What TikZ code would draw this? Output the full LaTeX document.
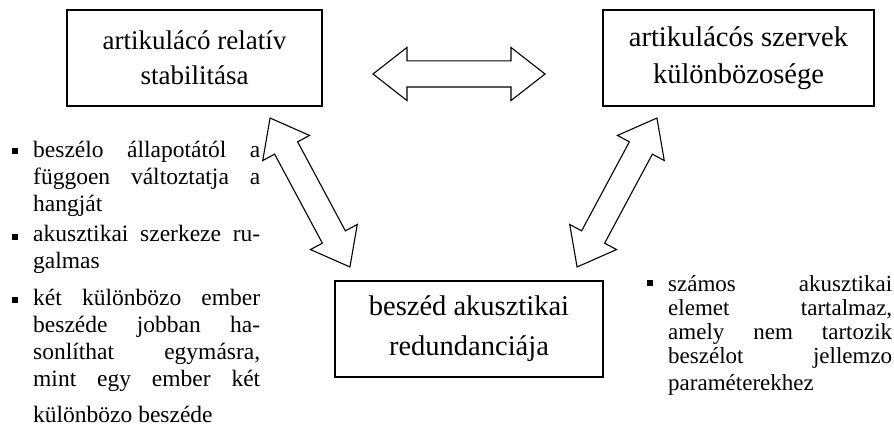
\documentclass[tikz,border=0pt]{standalone}
\usepackage{fontspec}
\setmainfont{Liberation Serif}
\usetikzlibrary{shapes.arrows}
\begin{document}
\begin{tikzpicture}[x=1pt,y=-1pt,
  box/.style={draw,line width=1.4pt,rectangle,align=center,inner sep=0pt,minimum height=96pt},
  blockarrow/.style={draw,line width=1.1pt,double arrow,double arrow tip angle=76,
    double arrow head extend=13.5pt,inner sep=0pt,inner ysep=12.5pt},
  bullettext/.style={anchor=north west,inner sep=0pt,align=justify},
  lefttext/.style={bullettext,text width=227pt,font=\fontsize{23.5}{27}\selectfont},
  righttext/.style={bullettext,text width=224pt,font=\fontsize{23}{24}\selectfont},
  bulletmark/.style={fill=black,inner sep=0pt,minimum size=6pt}
]
\useasboundingbox (0,0) rectangle (894,430);

% the three boxes
\node[box,minimum width=255pt,font=\fontsize{27}{35}\selectfont] (stab) at (194.5,58)
  {artikulácó relatív\\stabilitása};
\node[box,minimum width=271pt,font=\fontsize{28.5}{37}\selectfont] (szerv) at (738.5,58)
  {artikulácós szervek\\különbözosége};
\node[box,minimum width=268pt,font=\fontsize{28.5}{40}\selectfont] (redund) at (469,329)
  {beszéd akusztikai\\redundanciája};

% block arrows between the boxes
\node[blockarrow,minimum height=172pt] (a1) at (459,74) {};
\node[blockarrow,minimum height=169pt,rotate=-61.8] (a2) at (310,192.5) {};
\node[blockarrow,minimum height=169pt,rotate=61.8] (a3) at (617,192.5) {};

% left list
\node[bulletmark] (b1) at (15,151) {};
\node[lefttext] (t1) at (33,138.1)
  {\strut beszélo állapotától a\linebreak függoen változtatja a\linebreak hangját};
\node[bulletmark] (b2) at (15,237) {};
\node[lefttext] (t2) at (33,222)
  {\strut akusztikai szerkeze ru-\linebreak galmas};
\node[bulletmark] (b3) at (15,300) {};
\node[lefttext] (t3) at (33,286)
  {\strut két különbözo ember\linebreak beszéde jobban ha-\linebreak sonlíthat egymásra,\linebreak
   mint egy ember két\linebreak \rule{0pt}{30pt}különbözo beszéde};

% right list
\node[bulletmark] (b4) at (650,283.5) {};
\node[righttext] (t4) at (668,274.2)
  {\strut számos akusztikai\linebreak elemet tartalmaz,\linebreak amely nem tartozik\linebreak
   beszélot jellemzo\linebreak \rule{0pt}{21pt}paraméterekhez};
\end{tikzpicture}
\end{document}
